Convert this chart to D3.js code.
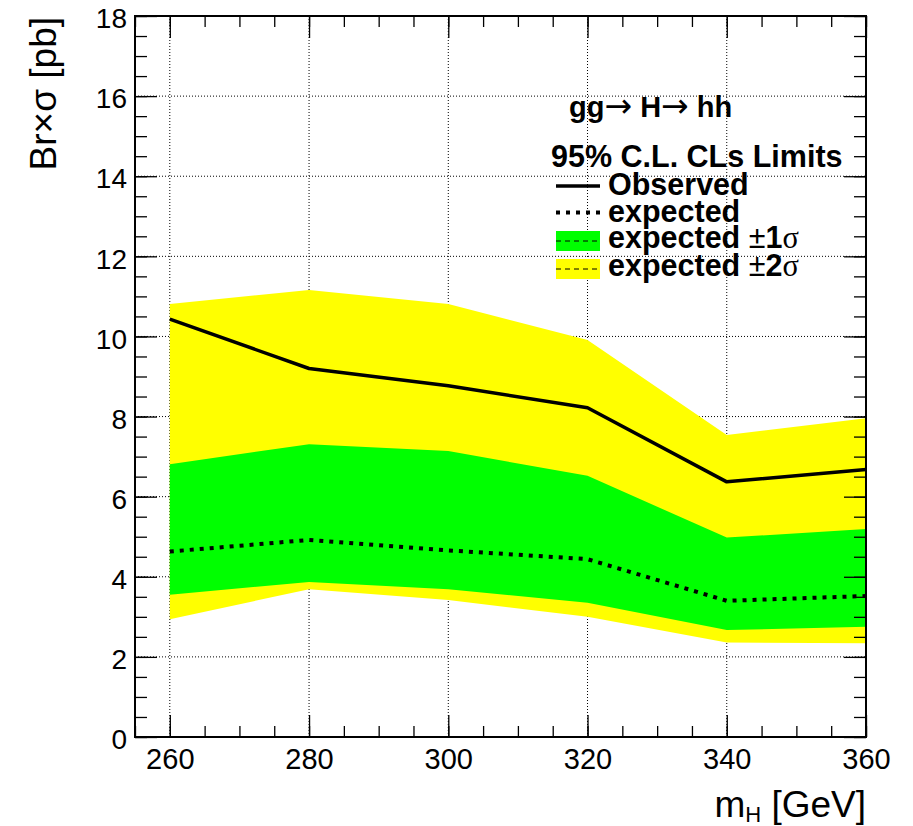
<!DOCTYPE html>
<html>
<head>
<meta charset="utf-8">
<script src="https://cdn.jsdelivr.net/npm/d3@7"></script>
<style>
  html, body { margin: 0; padding: 0; background: #fff; }
  svg { display: block; }
  text { font-family: "Liberation Sans", Arial, Helvetica, sans-serif; fill: #000; }
</style>
</head>
<body>
<svg id="chart" width="913" height="826"></svg>
<script>
// Higgs mass points (GeV)
const masses = [260, 280, 300, 320, 340, 360];
// 95% CL upper limits on Br×σ (pb)
const observed  = [10.43, 9.20, 8.77, 8.22, 6.37, 6.68];
const expected  = [4.63, 4.92, 4.66, 4.44, 3.40, 3.52];
const band1Up   = [6.81, 7.31, 7.14, 6.52, 4.98, 5.19];
const band1Down = [3.55, 3.87, 3.69, 3.35, 2.67, 2.75];
const band2Up   = [10.81, 11.16, 10.81, 9.91, 7.54, 7.96];
const band2Down = [2.94, 3.69, 3.42, 3.00, 2.36, 2.34];

const xTicks = [260, 280, 300, 320, 340, 360];
const yTicks = [0, 2, 4, 6, 8, 10, 12, 14, 16, 18];

const svg = d3.select("#chart");
const L = 135, R = 866, T = 16, B = 737;

const x = d3.scaleLinear().domain([255, 360]).range([L, R]);
const y = d3.scaleLinear().domain([0, 18]).range([B, T]);

const rows = masses.map((m, i) => ({
  m, obs: observed[i], exp: expected[i],
  u1: band1Up[i], d1: band1Down[i], u2: band2Up[i], d2: band2Down[i]
}));

// dotted grid at major ticks
const grid = svg.append("g");
grid.selectAll("line.gx").data(xTicks.filter(v => v < 360)).enter().append("line")
  .attr("x1", d => x(d)).attr("x2", d => x(d)).attr("y1", T).attr("y2", B)
  .attr("stroke", "#000").attr("stroke-width", 1).attr("stroke-dasharray", "1,2");
grid.selectAll("line.gy").data(yTicks.filter(v => v > 0 && v < 18)).enter().append("line")
  .attr("x1", L).attr("x2", R).attr("y1", d => y(d)).attr("y2", d => y(d))
  .attr("stroke", "#000").attr("stroke-width", 1).attr("stroke-dasharray", "1,2");

// uncertainty bands
const area = (lo, hi) => d3.area().x(d => x(d.m)).y0(d => y(d[lo])).y1(d => y(d[hi]));
svg.append("path").datum(rows).attr("d", area("d2", "u2")).attr("fill", "#ffff00");
svg.append("path").datum(rows).attr("d", area("d1", "u1")).attr("fill", "#00ff00");

// limit curves
const line = key => d3.line().x(d => x(d.m)).y(d => y(d[key]));
svg.append("path").datum(rows).attr("d", line("exp")).attr("fill", "none")
  .attr("stroke", "#000").attr("stroke-width", 4).attr("stroke-dasharray", "4,6");
svg.append("path").datum(rows).attr("d", line("obs")).attr("fill", "none")
  .attr("stroke", "#000").attr("stroke-width", 3.5).attr("stroke-linejoin", "round");

// axes: major and minor ticks on all four sides
const xMinor = d3.range(255, 360.1, 5);
const yMinor = d3.range(0, 18.01, 0.5);
const axes = svg.append("g");

axes.append("g").attr("transform", `translate(0,${B})`)
  .call(d3.axisBottom(x).tickValues(xMinor).tickSize(-11).tickFormat(""));
axes.append("g").attr("transform", `translate(0,${B})`)
  .call(d3.axisBottom(x).tickValues(xTicks).tickSize(-22).tickPadding(32).tickFormat(d3.format("d")))
  .call(g => g.selectAll("text").attr("font-size", 29).attr("dy", 0));
axes.append("g").attr("transform", `translate(0,${T})`)
  .call(d3.axisTop(x).tickValues(xMinor).tickSize(-11).tickFormat(""));
axes.append("g").attr("transform", `translate(0,${T})`)
  .call(d3.axisTop(x).tickValues(xTicks).tickSize(-22).tickFormat(""));

axes.append("g").attr("transform", `translate(${L},0)`)
  .call(d3.axisLeft(y).tickValues(yMinor).tickSize(-12).tickFormat(""));
axes.append("g").attr("transform", `translate(${L},0)`)
  .call(d3.axisLeft(y).tickValues(yTicks).tickSize(-22).tickPadding(8).tickFormat(d3.format("d")))
  .call(g => g.selectAll("text").attr("font-size", 28).attr("dy", "0.42em"));
axes.append("g").attr("transform", `translate(${R},0)`)
  .call(d3.axisRight(y).tickValues(yMinor).tickSize(-12).tickFormat(""));
axes.append("g").attr("transform", `translate(${R},0)`)
  .call(d3.axisRight(y).tickValues(yTicks).tickSize(-22).tickFormat(""));

axes.selectAll(".domain").remove();
axes.selectAll(".tick line").attr("stroke", "#000").attr("stroke-width", 1.3);
axes.selectAll(".tick text").attr("fill", "#000").attr("font-family", "Liberation Sans, Arial, sans-serif");

// frame
svg.append("rect").attr("x", L).attr("y", T).attr("width", R - L).attr("height", B - T)
  .attr("fill", "none").attr("stroke", "#000").attr("stroke-width", 2);

// axis titles
svg.append("text")
  .attr("transform", `translate(56,17) rotate(-90)`)
  .attr("text-anchor", "end").attr("font-size", 37)
  .text("Br×σ [pb]");

const xt = svg.append("text").attr("x", R).attr("y", 817)
  .attr("text-anchor", "end").attr("font-size", 37);
xt.append("tspan").text("m");
xt.append("tspan").attr("font-size", 22).attr("dy", 5).text("H");
xt.append("tspan").attr("dy", -5).text(" [GeV]");

// legend
const lg = svg.append("g");
const arrowFont = "DejaVu Sans, sans-serif";
const title = lg.append("text").attr("x", 569).attr("y", 117).attr("font-size", 29).attr("font-weight", "bold");
title.append("tspan").text("gg");
title.append("tspan").attr("font-family", arrowFont).attr("font-weight", "normal").attr("font-size", 33).text("→");
title.append("tspan").text(" H");
title.append("tspan").attr("font-family", arrowFont).attr("font-weight", "normal").attr("font-size", 33).text("→");
title.append("tspan").text(" hh");

lg.append("text").attr("x", 551).attr("y", 167).attr("font-size", 30.5).attr("font-weight", "bold")
  .text("95% C.L. CLs Limits");

const lx0 = 556, lx1 = 600, tx = 608, fs = 30.5;
lg.append("line").attr("x1", lx0).attr("x2", lx1).attr("y1", 186).attr("y2", 186)
  .attr("stroke", "#000").attr("stroke-width", 3.5);
lg.append("text").attr("x", tx).attr("y", 195).attr("font-size", fs).attr("font-weight", "bold")
  .text("Observed");

lg.append("line").attr("x1", lx0).attr("x2", lx1).attr("y1", 212.5).attr("y2", 212.5)
  .attr("stroke", "#000").attr("stroke-width", 4).attr("stroke-dasharray", "4,6");
lg.append("text").attr("x", tx).attr("y", 222).attr("font-size", fs).attr("font-weight", "bold")
  .text("expected");

const bands = [
  { y0: 231, color: "#00ff00", base: 248, n: "1" },
  { y0: 259, color: "#ffff00", base: 276, n: "2" }
];
bands.forEach(b => {
  lg.append("rect").attr("x", lx0).attr("y", b.y0).attr("width", lx1 - lx0).attr("height", 20)
    .attr("fill", b.color);
  lg.append("line").attr("x1", lx0).attr("x2", lx1).attr("y1", b.y0 + 10).attr("y2", b.y0 + 10)
    .attr("stroke", "#000").attr("stroke-width", 1).attr("stroke-dasharray", "5,4");
  const t = lg.append("text").attr("x", tx).attr("y", b.base).attr("font-size", fs);
  t.append("tspan").attr("font-weight", "bold").text("expected ");
  t.append("tspan").text("±");
  t.append("tspan").attr("font-weight", "bold").text(b.n);
  t.append("tspan").attr("font-family", "Liberation Serif, Times New Roman, serif").text("σ");
});
</script>
</body>
</html>
